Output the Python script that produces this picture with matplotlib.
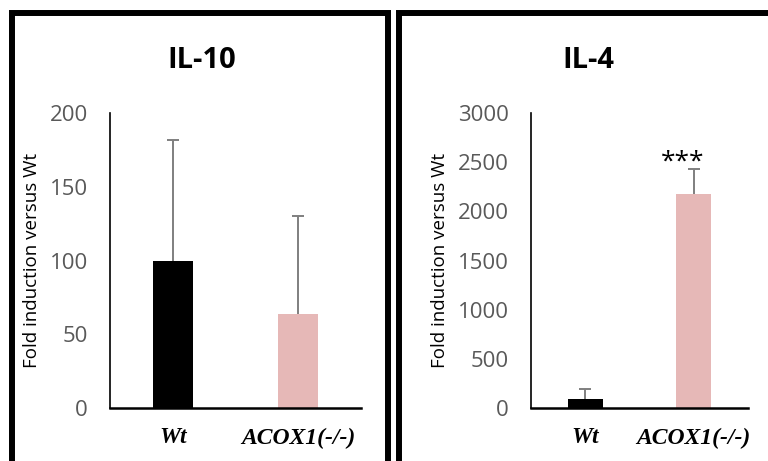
import matplotlib.pyplot as plt
from matplotlib.patches import Rectangle

# data
groups = ['Wt', 'ACOX1(-/-)']
il10_values = [100, 64]
il10_errors = [82, 66]
il4_values = [95, 2175]
il4_errors = [95, 255]
bar_colors = ['#000000', '#E6B8B7']

plt.rcParams['font.family'] = ['Open Sans', 'DejaVu Sans']

fig = plt.figure(figsize=(7.68, 4.61), dpi=100)

# black panel frames (bottom edges run off the image)
for x0, x1 in [(12, 388), (399, 790)]:
    fig.patches.append(Rectangle((x0 / 768, -0.1), (x1 - x0) / 768, (461 - 13) / 461 + 0.1,
                                 transform=fig.transFigure, fill=False,
                                 edgecolor='black', linewidth=4.3))


def panel(rect, values, errors, title, ymax, step, title_x):
    ax = fig.add_axes(rect)
    x = range(len(groups))
    bars = ax.bar(x, values, width=0.32, color=bar_colors,
                  yerr=[[0] * len(values), errors],
                  error_kw=dict(ecolor='#7f7f7f', elinewidth=1.4, capsize=4.5, capthick=1.4))
    # only the upper cap
    bars.errorbar.lines[1][0].set_visible(False)
    ax.set_xlim(-0.5, 1.5)
    ax.set_ylim(0, ymax)
    ax.set_yticks(range(0, ymax + 1, step))
    ax.tick_params(axis='y', length=0, pad=16, labelsize=16, labelcolor='#595959')
    ax.tick_params(axis='x', length=0, pad=14)
    ax.set_xticks(list(x))
    ax.set_xticklabels(groups, fontfamily='Liberation Serif', fontweight='bold',
                       fontstyle='italic', fontsize=17)
    for s in ['top', 'right']:
        ax.spines[s].set_visible(False)
    ax.spines['left'].set_linewidth(1.2)
    ax.spines['bottom'].set_linewidth(1.8)
    ax.set_ylabel('Fold induction versus Wt', fontsize=13.5, color='black', labelpad=6)
    fig.text(title_x / 768, 1 - 60 / 461, title, fontsize=21, fontweight='bold',
             ha='center', va='center')
    return ax


panel([110 / 768, 53 / 461, 251 / 768, 295 / 461], il10_values, il10_errors,
      'IL-10', 200, 50, 202)
ax2 = panel([531 / 768, 53 / 461, 217 / 768, 295 / 461], il4_values, il4_errors,
            'IL-4', 3000, 500, 588)
ax2.text(0.9, il4_values[1] + il4_errors[1] - 60, '***', ha='center', va='bottom',
         fontsize=19)

fig.savefig('out.png', dpi=100)
